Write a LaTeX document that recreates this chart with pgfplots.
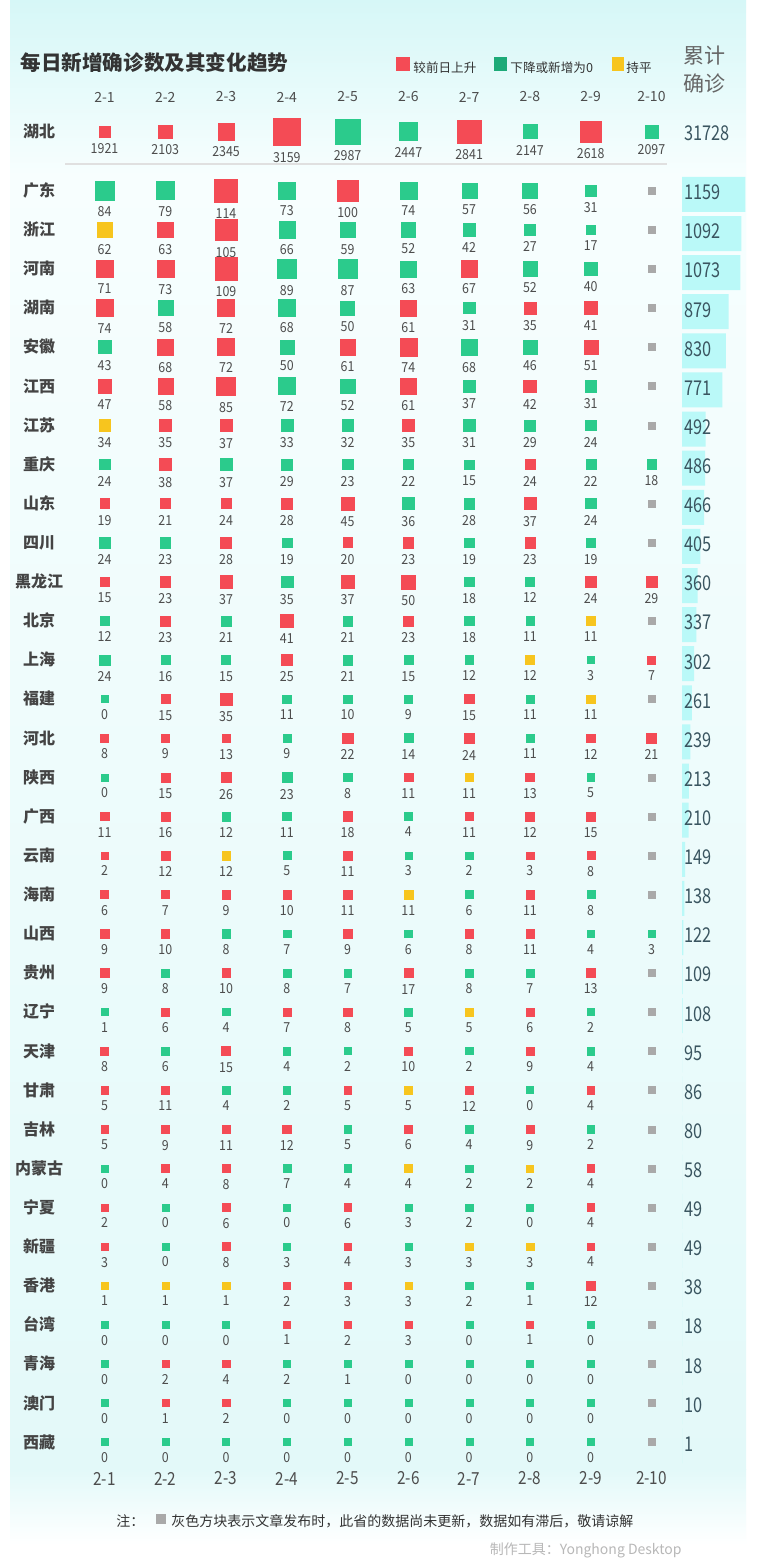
\documentclass[border=0pt]{standalone}
\usepackage{pgfplots}
\pgfplotsset{compat=1.18}
\usepackage{pgfplotstable}
\usepackage{fontspec}
\setmainfont{Noto Sans CJK SC}

\definecolor{cR}{HTML}{F44B55}
\definecolor{cG}{HTML}{2BCB8C}
\definecolor{cY}{HTML}{F7C51E}
\definecolor{cN}{HTML}{A9A9A9}
\definecolor{cGL}{HTML}{1DAA78}
\definecolor{cT}{HTML}{4D4D4D}
\definecolor{cHead}{HTML}{333333}
\definecolor{cRow}{HTML}{444444}
\definecolor{cCum}{HTML}{3A5560}
\definecolor{cBar}{HTML}{BAF9F8}
\definecolor{cBg1}{HTML}{D6F7F7}
\definecolor{cBg2}{HTML}{F7FEFE}
\definecolor{cBg3}{HTML}{E3F9F9}

% row, name, cumulative, then value and trend (R up, G down or 0, Y equal, N not updated) per day
\pgfplotstableread{
row name cum v1 k1 v2 k2 v3 k3 v4 k4 v5 k5 v6 k6 v7 k7 v8 k8 v9 k9 v10 k10
-0.51 湖北 31728 1921 R 2103 R 2345 R 3159 R 2987 G 2447 G 2841 R 2147 G 2618 R 2097 G
1 广东 1159 84 G 79 G 114 R 73 G 100 R 74 G 57 G 56 G 31 G 0 N
2 浙江 1092 62 Y 63 R 105 R 66 G 59 G 52 G 42 G 27 G 17 G 0 N
3 河南 1073 71 R 73 R 109 R 89 G 87 G 63 G 67 R 52 G 40 G 0 N
4 湖南 879 74 R 58 G 72 R 68 G 50 G 61 R 31 G 35 R 41 R 0 N
5 安徽 830 43 G 68 R 72 R 50 G 61 R 74 R 68 G 46 G 51 R 0 N
6 江西 771 47 R 58 R 85 R 72 G 52 G 61 R 37 G 42 R 31 G 0 N
7 江苏 492 34 Y 35 R 37 R 33 G 32 G 35 R 31 G 29 G 24 G 0 N
8 重庆 486 24 G 38 R 37 G 29 G 23 G 22 G 15 G 24 R 22 G 18 G
9 山东 466 19 R 21 R 24 R 28 R 45 R 36 G 28 G 37 R 24 G 0 N
10 四川 405 24 G 23 G 28 R 19 G 20 R 23 R 19 G 23 R 19 G 0 N
11 黑龙江 360 15 R 23 R 37 R 35 G 37 R 50 R 18 G 12 G 24 R 29 R
12 北京 337 12 G 23 R 21 G 41 R 21 G 23 R 18 G 11 G 11 Y 0 N
13 上海 302 24 G 16 G 15 G 25 R 21 G 15 G 12 G 12 Y 3 G 7 R
14 福建 261 0 G 15 R 35 R 11 G 10 G 9 G 15 R 11 G 11 Y 0 N
15 河北 239 8 R 9 R 13 R 9 G 22 R 14 G 24 R 11 G 12 R 21 R
16 陕西 213 0 G 15 R 26 R 23 G 8 G 11 R 11 Y 13 R 5 G 0 N
17 广西 210 11 R 16 R 12 G 11 G 18 R 4 G 11 R 12 R 15 R 0 N
18 云南 149 2 R 12 R 12 Y 5 G 11 R 3 G 2 G 3 R 8 R 0 N
19 海南 138 6 R 7 R 9 R 10 R 11 R 11 Y 6 G 11 R 8 G 0 N
20 山西 122 9 R 10 R 8 G 7 G 9 R 6 G 8 R 11 R 4 G 3 G
21 贵州 109 9 R 8 G 10 R 8 G 7 G 17 R 8 G 7 G 13 R 0 N
22 辽宁 108 1 G 6 R 4 G 7 R 8 R 5 G 5 Y 6 R 2 G 0 N
23 天津 95 8 R 6 G 15 R 4 G 2 G 10 R 2 G 9 R 4 G 0 N
24 甘肃 86 5 R 11 R 4 G 2 G 5 R 5 Y 12 R 0 G 4 R 0 N
25 吉林 80 5 R 9 R 11 R 12 R 5 G 6 R 4 G 9 R 2 G 0 N
26 内蒙古 58 0 G 4 R 8 R 7 G 4 G 4 Y 2 G 2 Y 4 R 0 N
27 宁夏 49 2 R 0 G 6 R 0 G 6 R 3 G 2 G 0 G 4 R 0 N
28 新疆 49 3 R 0 G 8 R 3 G 4 R 3 G 3 Y 3 Y 4 R 0 N
29 香港 38 1 Y 1 Y 1 Y 2 R 3 R 3 Y 2 G 1 G 12 R 0 N
30 台湾 18 0 G 0 G 0 G 1 R 2 R 3 R 0 G 1 R 0 G 0 N
31 青海 18 0 G 2 R 4 R 2 G 1 G 0 G 0 G 0 G 0 G 0 N
32 澳门 10 0 G 1 R 2 R 0 G 0 G 0 G 0 G 0 G 0 G 0 N
33 西藏 1 0 G 0 G 0 G 0 G 0 G 0 G 0 G 0 G 0 G 0 N
}\data

\def\rowticks{-0.51,1,2,3,4,5,6,7,8,9,10,11,12,13,14,15,16,17,18,19,20,21,22,23,24,25,26,27,28,29,30,31,32,33}

\pgfplotsset{
  board/.style={
    scale only axis, width=378.5pt, height=783.5pt,
    at={(0pt,0pt)}, anchor=south west,
    xmin=-0.7196, xmax=11.737, ymin=-3.871, ymax=36.196, y dir=reverse,
    axis line style={draw=none}, major tick length=0pt, tick style={draw=none},
    clip=false,
  },
}

\begin{document}
\begin{tikzpicture}
% background panel, 1 unit = 1 px of the reference
\begin{scope}[x=0.5pt, y=-0.5pt, yshift=783.5pt]
  \fill[white] (0,0) rectangle (757,1567);
  \shade[top color=cBg1, bottom color=cBg2] (10,0) rectangle (746,175);
  \shade[top color=cBg2, bottom color=cBg3] (10,175) rectangle (746,1470);
  \shade[top color=cBg3, bottom color=white] (10,1470) rectangle (746,1545);
  \draw[black!12, line width=0.8pt] (65,164) -- (667,164);
\end{scope}

% cumulative bars and totals
\begin{axis}[scale only axis, width=37.5pt, height=783.5pt,
  at={(341pt,0pt)}, anchor=south west, axis on top,
  xmin=97.2, xmax=1353, ymin=-3.871, ymax=36.196, y dir=reverse,
  axis line style={draw=none}, major tick length=0pt, tick style={draw=none},
  xtick=\empty, ytick/.expanded=\rowticks,
  yticklabels from table={\data}{cum}, yticklabel pos=right,
  yticklabel style={anchor=west, inner sep=0pt, xshift=-36.5pt, yshift=-1pt,
    xscale=0.8, font=\fontsize{10.2}{11}\selectfont, text=cCum},
  xbar, bar width=17.5pt, bar shift=0pt]
\addplot[fill=cBar, draw=none, skip coords between index={0}{1}]
  table[x=cum, y expr=\thisrow{row}+0.1] {\data};
\end{axis}

% daily squares
\begin{axis}[board,
  xtick={1,...,10}, xticklabels={2-1,2-2,2-3,2-4,2-5,2-6,2-7,2-8,2-9,2-10},
  xticklabel pos=right,
  xticklabel style={anchor=center, yshift=-48.5pt, font=\fontsize{7}{8}\selectfont, text=cT},
  ytick/.expanded=\rowticks, yticklabels from table={\data}{name},
  yticklabel style={anchor=center, xshift=19.5pt, font=\bfseries\fontsize{8}{9}\selectfont, text=cRow},
]
\pgfplotsinvokeforeach{1,...,10}{
  \addplot[scatter, only marks, mark=square*, point meta=explicit symbolic,
    visualization depends on={ifthenelse(\thisrow{row}<0,0.003325*\thisrow{v#1}-3.625,1.75+0.035*\thisrow{v#1}) \as \sz},
    visualization depends on={\thisrow{v#1} \as \val},
    scatter/@pre marker code/.code={\edef\kk{\pgfplotspointmeta}%
      \scope[mark size=\sz, fill=c\kk, draw=c\kk, line width=0.1pt]},
    scatter/@post marker code/.code={\endscope
      \if N\kk\else
        \pgfmathtruncatemacro{\vv}{\val}%
        \node[anchor=north, inner sep=0pt, xscale=0.9,
          font=\fontsize{6.9}{8}\selectfont, text=cT] at (0pt,{-\sz pt-3.2pt}) {\vv};
      \fi},
  ] table[x expr=#1, y=row, meta=k#1] {\data};
}
\end{axis}

% dates along the bottom
\begin{axis}[board,
  xtick={1,...,10}, xticklabels={2-1,2-2,2-3,2-4,2-5,2-6,2-7,2-8,2-9,2-10},
  xticklabel pos=left,
  xticklabel style={anchor=center, yshift=44.25pt, xscale=0.85,
    font=\fontsize{9}{10}\selectfont, text=cT},
  ytick=\empty]
\end{axis}

% title, legend, notes
\begin{scope}[x=0.5pt, y=-0.5pt, yshift=783.5pt]
  \node[anchor=west, inner sep=0pt, font=\bfseries\fontsize{10.3}{12}\selectfont, text=cHead]
    at (20,63) {每日新增确诊数及其变化趋势};
  \fill[cR] (396,57) rectangle (410,71);
  \node[anchor=west, inner sep=0pt, font=\fontsize{6.3}{7}\selectfont, text=cHead] at (413,68) {较前日上升};
  \fill[cGL] (494,57) rectangle (507,71);
  \node[anchor=west, inner sep=0pt, font=\fontsize{6.3}{7}\selectfont, text=cHead] at (510,68) {下降或新增为0};
  \fill[cY] (612,57) rectangle (624,71);
  \node[anchor=west, inner sep=0pt, font=\fontsize{6.3}{7}\selectfont, text=cHead] at (626,68) {持平};
  \node[anchor=west, inner sep=0pt, font=\fontsize{10.5}{12}\selectfont, text=black!60] at (683,56) {累计};
  \node[anchor=west, inner sep=0pt, font=\fontsize{10.5}{12}\selectfont, text=black!60] at (683,84) {确诊};
  \node[anchor=west, inner sep=0pt, font=\fontsize{7}{8}\selectfont, text=cHead] at (116,1521) {注：};
  \fill[cN] (156,1514) rectangle (166,1524);
  \node[anchor=west, inner sep=0pt, font=\fontsize{7}{8}\selectfont, text=cHead]
    at (171,1521) {灰色方块表示文章发布时，此省的数据尚未更新，数据如有滞后，敬请谅解};
  \node[anchor=east, inner sep=0pt, font=\fontsize{7}{8}\selectfont, text=black!28]
    at (682,1550) {制作工具：Yonghong Desktop};
\end{scope}
\pgfresetboundingbox
\path (0pt,0pt) rectangle (378.5pt,783.5pt);
\end{tikzpicture}
\end{document}
